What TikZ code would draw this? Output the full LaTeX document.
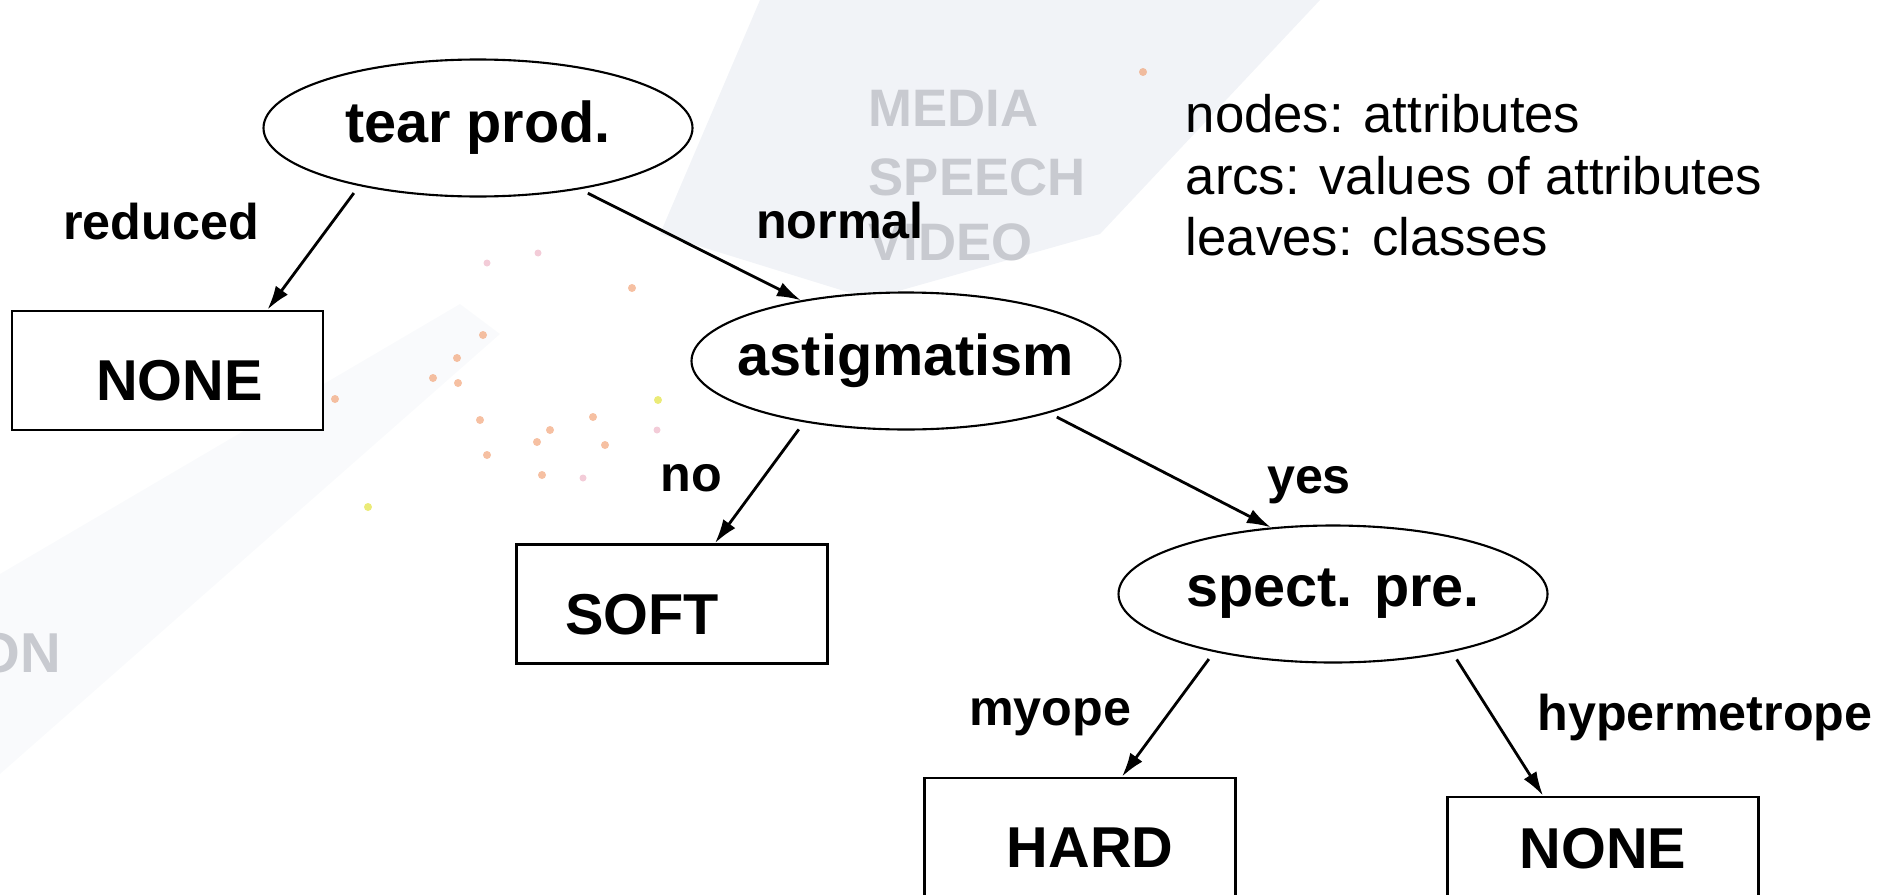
\documentclass[tikz,border=0pt]{standalone}
\usepackage{fontspec}
\setmainfont{Liberation Sans}
\usepackage{xcolor}
\usepackage{tikz}
\usetikzlibrary{shapes.geometric,arrows.meta}
\definecolor{bgband}{RGB}{224,229,237}
\definecolor{bgtext}{RGB}{200,202,208}
\definecolor{dotorange}{RGB}{240,150,100}
\definecolor{dotpink}{RGB}{235,170,190}
\definecolor{dotyellow}{RGB}{235,235,120}

\begin{document}
\begin{tikzpicture}[
	attr/.style={ellipse,draw,fill=white,line width=0.6pt,minimum width=4.29cm,minimum height=1.37cm,inner xsep=-2mm,inner ysep=1pt,font=\fontsize{16.4}{19}\selectfont\bfseries},
	leaf/.style={rectangle,draw,fill=white,line width=0.8pt,minimum width=3.11cm,minimum height=1.19cm,text height=0.6cm,text depth=0pt,inner sep=0pt,font=\fontsize{16.4}{19}\selectfont\bfseries},
	branch/.style={line width=0.8pt,-{Latex[length=2.4mm,width=1.5mm]},shorten <=2.5pt},
	val/.style={inner sep=0pt,font=\fontsize{14.3}{17}\selectfont\bfseries},
	bgword/.style={inner sep=0pt,text=bgtext,font=\fontsize{15}{18}\selectfont\bfseries}]
			\useasboundingbox (0,0) rectangle (18.86,8.94);
			\clip (0,0) rectangle (18.86,8.94);
			% Vẽ nền
			\fill[bgband,opacity=0.45] (7.6,8.94) -- (13.2,8.94) -- (11.0,6.6) -- (8.7,5.95) -- (6.6,6.6) -- cycle;
			\fill[bgband,opacity=0.18] (0,1.2) -- (0,3.2) -- (4.6,5.9) -- (5.0,5.6) -- cycle;
			\node[bgword,anchor=west] (media) at (8.68,7.86) {MEDIA};
			\node[bgword,anchor=west] (speech) at (8.68,7.17) {SPEECH};
			\node[bgword,anchor=west] (video) at (8.68,6.52) {VIDEO};
			\node[bgword,font=\fontsize{16}{19}\selectfont\bfseries,anchor=east] (on) at (0.62,2.41) {ON};
			\foreach \x/\y in {4.83/5.59,4.57/5.36,4.33/5.16,4.58/5.11,3.35/4.95,6.32/6.06,4.80/4.74,5.50/4.64,5.37/4.52,4.87/4.39,5.42/4.19,5.93/4.77,6.05/4.49,11.43/8.22}
			\fill[dotorange,opacity=0.6] (\x,\y) circle (0.04);
			\foreach \x/\y in {6.57/4.64,5.38/6.41,4.87/6.31,5.83/4.16}
			\fill[dotpink,opacity=0.6] (\x,\y) circle (0.035);
			\foreach \x/\y in {6.58/4.94,3.68/3.87}
			\fill[dotyellow] (\x,\y) circle (0.04);
			% Vẽ các nút
			\node[attr] (tear) at (4.78,7.66) {tear prod.};
			\node[attr] (astig) at (9.06,5.33) {astigmatism};
			\node[attr] (spect) at (13.33,3.00) {spect. pre.};
			\node[leaf] (none1) at (1.675,5.235) {\hspace*{2.4mm}NONE};
			\node[leaf] (soft) at (6.72,2.90) {SOFT\hspace*{6mm}};
			\node[leaf] (hard) at (10.80,0.565) {\hspace*{2mm}HARD};
			\node[leaf,text depth=0.36cm] (none2) at (16.03,0.375) {NONE};
			% Vẽ các cung
			\draw[branch] (tear.206) -- ([xshift=1cm]none1.north);
			\draw[branch] (tear.329) -- (astig.150);
			\draw[branch] (astig.211) -- ([xshift=0.43cm]soft.north);
			\draw[branch] (astig.340) -- (spect.133);
			\draw[branch] (spect.206) -- ([xshift=0.42cm]hard.north);
			\draw[branch] (spect.334) -- ([xshift=-0.6cm]none2.north);
			\node[val] (reduced) at (1.61,6.72) {reduced};
			\node[val] (normal) at (8.40,6.73) {normal};
			\node[val] (no) at (6.91,4.16) {no};
			\node[val] (yes) at (13.09,4.09) {yes};
			\node[val] (myope) at (10.50,1.77) {myope};
			\node[val] (hyper) at (17.05,1.77) {hypermetrope};
			% Chú thích
			\node[anchor=north west,align=left,inner sep=0pt,font=\fontsize{15}{17.4}\selectfont] (legend) at (11.85,8.0) {nodes: attributes\\arcs: values of attributes\\leaves: classes};
		\end{tikzpicture}
\end{document}
